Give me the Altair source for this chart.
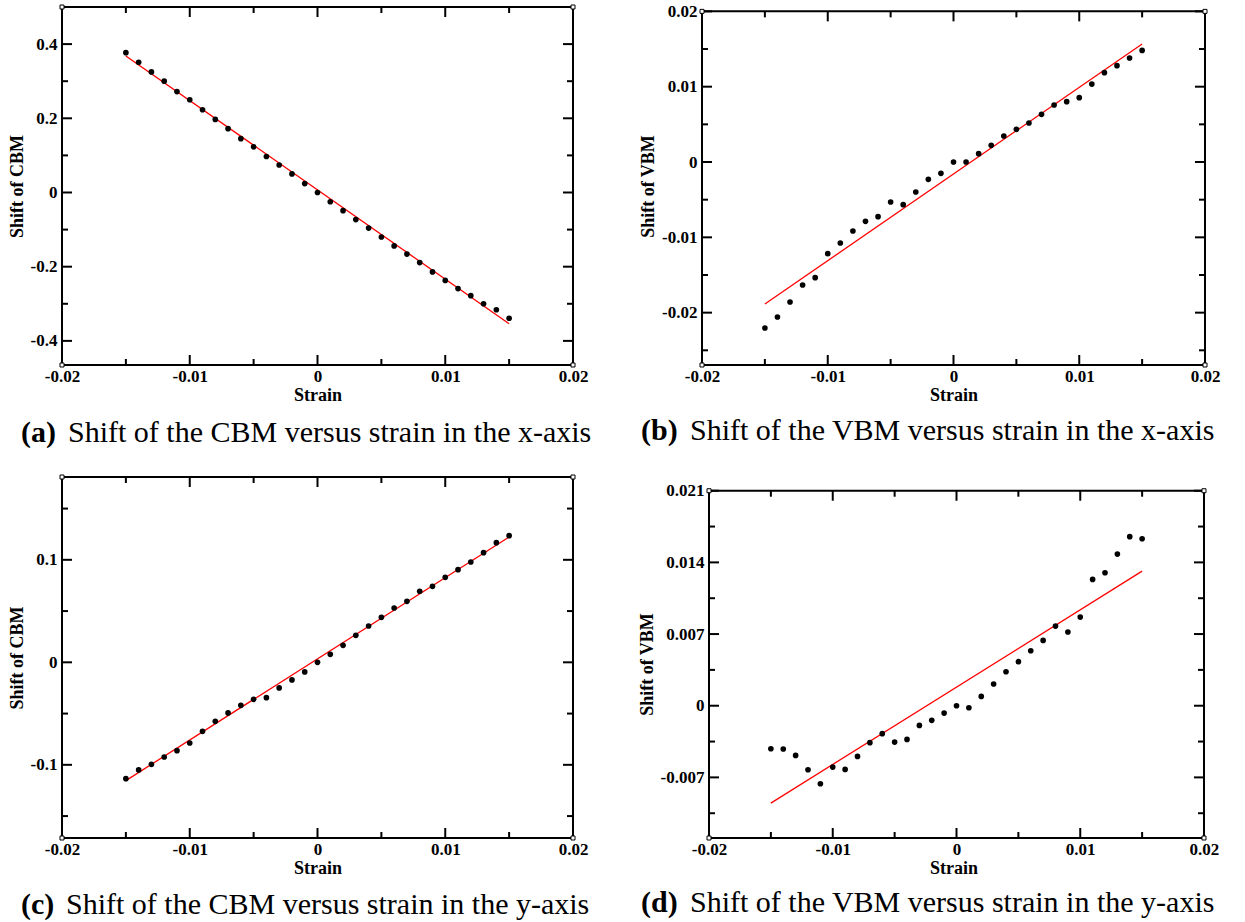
import altair as alt
import pandas as pd

# ---------------- data ----------------
strain = [-0.015, -0.014, -0.013, -0.012, -0.011, -0.010, -0.009, -0.008,
          -0.007, -0.006, -0.005, -0.004, -0.003, -0.002, -0.001, 0.0,
          0.001, 0.002, 0.003, 0.004, 0.005, 0.006, 0.007, 0.008,
          0.009, 0.010, 0.011, 0.012, 0.013, 0.014, 0.015]

cbm_xaxis = [0.377, 0.351, 0.325, 0.300, 0.272, 0.250, 0.223, 0.197,
             0.172, 0.145, 0.123, 0.097, 0.074, 0.050, 0.024, 0.0,
             -0.025, -0.049, -0.073, -0.096, -0.120, -0.144, -0.166, -0.189,
             -0.214, -0.237, -0.259, -0.278, -0.300, -0.316, -0.339]

vbm_xaxis = [-0.02204, -0.02058, -0.01858, -0.01633, -0.01535, -0.01217, -0.01075, -0.00916,
             -0.00788, -0.00726, -0.00531, -0.00566, -0.00398, -0.00230, -0.00150, 0.0,
             0.0, 0.00111, 0.00221, 0.00345, 0.00434, 0.00518, 0.00633, 0.00757,
             0.00801, 0.00854, 0.01035, 0.01186, 0.01279, 0.01381, 0.01482]

cbm_yaxis = [-0.1135, -0.1050, -0.0995, -0.0924, -0.0862, -0.0787, -0.0673, -0.0576,
             -0.0494, -0.0420, -0.0361, -0.0345, -0.0250, -0.0172, -0.0094, 0.0,
             0.0078, 0.0166, 0.0263, 0.0354, 0.0439, 0.0530, 0.0595, 0.0693,
             0.0741, 0.0829, 0.0904, 0.0979, 0.1070, 0.1167, 0.1236]

vbm_yaxis = [-0.00420, -0.00423, -0.00485, -0.00625, -0.00762, -0.00599, -0.00622, -0.00495,
             -0.00361, -0.00273, -0.00355, -0.00329, -0.00192, -0.00143, -0.00072, 0.0,
             -0.00020, 0.00091, 0.00212, 0.00332, 0.00430, 0.00537, 0.00638, 0.00778,
             0.00720, 0.00866, 0.01234, 0.01299, 0.01481, 0.01651, 0.01631]

fit_strain = [-0.015, 0.015]
fit_cbm_xaxis = [0.368, -0.354]
fit_vbm_xaxis = [-0.01885, 0.01566]
fit_cbm_yaxis = [-0.1154, 0.1223]
fit_vbm_yaxis = [-0.00951, 0.01315]

x_major = [-0.02, -0.01, 0, 0.01, 0.02]
x_minor = [-0.015, -0.005, 0.005, 0.015]

y_major_a = [-0.4, -0.2, 0, 0.2, 0.4]
y_minor_a = [-0.3, -0.1, 0.1, 0.3]
y_major_b = [-0.02, -0.01, 0, 0.01, 0.02]
y_minor_b = [-0.025, -0.015, -0.005, 0.005, 0.015]
y_major_c = [-0.1, 0, 0.1]
y_minor_c = [-0.15, -0.05, 0.05, 0.15]
y_major_d = [-0.007, 0, 0.007, 0.014, 0.021]
y_minor_d = [-0.0105, -0.0035, 0.0035, 0.0105, 0.0175]

SERIF = "Liberation Serif"


def panel(yvals, fity, ymaj, ymin, xdom, ydom, fx, fy, ytitle, cap_label, cap_text,
          width, height, cap_x0, cap_x1, cap_y, yoffset=0, title_y=None):
    xs = alt.Scale(domain=xdom, nice=False, zero=False)
    ys = alt.Scale(domain=ydom, nice=False, zero=False)
    xax = alt.Axis(values=x_major, labelExpr="'' + datum.value", ticks=False, domain=False,
                   grid=False, title="Strain", labelFont=SERIF, labelFontSize=17,
                   labelFontWeight="bold", labelColor="black", titleFont=SERIF,
                   titleFontSize=18, titleFontWeight="bold", titleColor="black",
                   labelPadding=3, titlePadding=2, labelFlush=False, labelOverlap=False)
    yargs = dict(values=ymaj, labelExpr="'' + datum.value", ticks=False, domain=False,
                 grid=False, title=ytitle, labelFont=SERIF, labelFontSize=17,
                 labelFontWeight="bold", labelColor="black", titleFont=SERIF,
                 titleFontSize=18, titleFontWeight="bold", titleColor="black",
                 labelPadding=5, titlePadding=4, labelFlush=False, labelOverlap=False,
                 offset=yoffset)
    if title_y is not None:
        yargs["titleY"] = title_y
    yax = alt.Axis(**yargs)

    def X(f):
        return alt.X(f, type="quantitative", scale=xs, axis=xax)

    def Y(f):
        return alt.Y(f, type="quantitative", scale=ys, axis=yax)

    layers = []
    frame_df = pd.DataFrame({"x": [fx[0]], "x2": [fx[1]], "y": [fy[0]], "y2": [fy[1]]})
    layers.append(alt.Chart(frame_df).mark_rect(fillOpacity=0, stroke="black", strokeWidth=2)
                  .encode(x=X("x"), x2="x2", y=Y("y"), y2="y2"))

    for vals, L in [(x_major, 10), (x_minor, 6)]:
        bot = pd.DataFrame({"x": vals, "y": [fy[0]] * len(vals)})
        top = pd.DataFrame({"x": vals, "y": [fy[1]] * len(vals)})
        layers.append(alt.Chart(bot).mark_rule(color="black", strokeWidth=2, y2Offset=-L)
                      .encode(x=X("x"), y=Y("y"), y2="y"))
        layers.append(alt.Chart(top).mark_rule(color="black", strokeWidth=2, y2Offset=L)
                      .encode(x=X("x"), y=Y("y"), y2="y"))
    for vals, L in [(ymaj, 10), (ymin, 6)]:
        lef = pd.DataFrame({"y": vals, "x": [fx[0]] * len(vals)})
        rig = pd.DataFrame({"y": vals, "x": [fx[1]] * len(vals)})
        layers.append(alt.Chart(lef).mark_rule(color="black", strokeWidth=2, x2Offset=L)
                      .encode(x=X("x"), x2="x", y=Y("y")))
        layers.append(alt.Chart(rig).mark_rule(color="black", strokeWidth=2, x2Offset=-L)
                      .encode(x=X("x"), x2="x", y=Y("y")))

    fit_df = pd.DataFrame({"x": fit_strain, "y": fity})
    layers.append(alt.Chart(fit_df).mark_line(color="#ff0000", strokeWidth=1.3)
                  .encode(x=X("x"), y=Y("y")))
    pts = pd.DataFrame({"x": strain, "y": yvals})
    layers.append(alt.Chart(pts).mark_circle(size=32, color="black", opacity=1)
                  .encode(x=X("x"), y=Y("y")))

    corners = pd.DataFrame({"x": [fx[0], fx[0], fx[1], fx[1]],
                            "y": [fy[0], fy[1], fy[0], fy[1]]})
    layers.append(alt.Chart(corners).mark_point(shape="square", size=16, filled=True,
                                                fill="white", stroke="black",
                                                strokeWidth=1, opacity=1)
                  .encode(x=X("x"), y=Y("y")))

    lab = pd.DataFrame({"t": [cap_label]})
    txt = pd.DataFrame({"t": [cap_text]})
    layers.append(alt.Chart(lab).mark_text(align="left", baseline="alphabetic", font=SERIF,
                                           fontSize=30, fontWeight="bold", color="black")
                  .encode(text="t:N", x=alt.value(cap_x0), y=alt.value(cap_y)))
    layers.append(alt.Chart(txt).mark_text(align="left", baseline="alphabetic", font=SERIF,
                                           fontSize=30, fontWeight="normal", color="black")
                  .encode(text="t:N", x=alt.value(cap_x1), y=alt.value(cap_y)))

    return alt.layer(*layers).properties(width=width, height=height)


pa = panel(cbm_xaxis, fit_cbm_xaxis, y_major_a, y_minor_a,
           [-0.02, 0.02], [-0.465, 0.5], (-0.02, 0.02), (-0.465, 0.5),
           "Shift of CBM", "(a)", "Shift of the CBM versus strain in the x-axis",
           511, 358, -41, 6, 435)

pb = panel(vbm_xaxis, fit_vbm_xaxis, y_major_b, y_minor_b,
           [-0.02, 0.02], [-0.02695, 0.02058], (-0.02, 0.02), (-0.02695, 0.02),
           "Shift of VBM", "(b)", "Shift of the VBM versus strain in the x-axis",
           503, 358, -61, -12, 433)

pc = panel(cbm_yaxis, fit_cbm_yaxis, y_major_c, y_minor_c,
           [-0.02, 0.02], [-0.1714, 0.1808], (-0.02, 0.02), (-0.1714, 0.1808),
           "Shift of CBM", "(c)", "Shift of the CBM versus strain in the y-axis",
           511, 361, -41, 4, 437)

pd_ = panel(vbm_yaxis, fit_vbm_yaxis, y_major_d, y_minor_d,
            [-0.020566, 0.020081], [-0.01292, 0.02234], (-0.02, 0.02), (-0.01292, 0.021),
            "Shift of VBM", "(d)", "Shift of the VBM versus strain in the y-axis",
            503, 361, -61, -12, 435, yoffset=-7, title_y=187)

chart = alt.concat(pa, pb, pc, pd_, columns=2,
                   spacing=alt.RowColnumber(row=112, column=129),
                   bounds="flush").properties(
    padding={"left": 7, "top": 1, "right": 5, "bottom": 5},
    background="white",
).configure_view(
    stroke="transparent"
).configure_axis(
    labelFont=SERIF, labelFontSize=17, labelFontWeight="bold", labelColor="black",
    titleFont=SERIF, titleFontSize=18, titleFontWeight="bold", titleColor="black",
)

chart.save("out.html", embed_options={"renderer": "svg", "actions": False})
